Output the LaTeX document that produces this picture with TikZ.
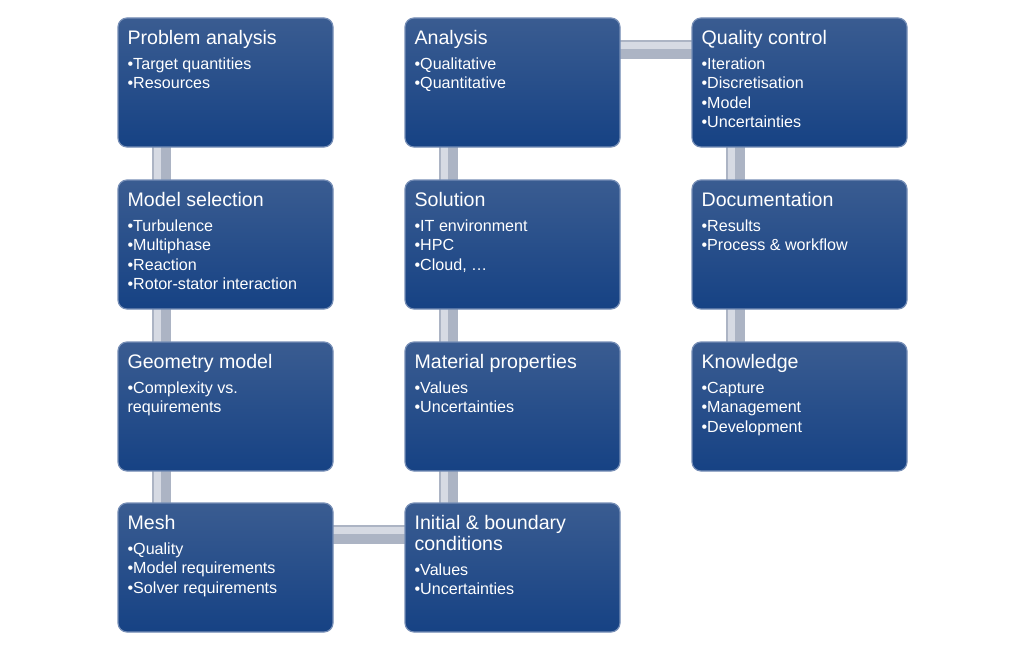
\documentclass[tikz,border=0pt]{standalone}
\usepackage{fontspec}
\setmainfont{Liberation Sans}
\usetikzlibrary{backgrounds}
\definecolor{boxtop}{RGB}{58,92,145}
\definecolor{boxbot}{RGB}{22,66,132}
\definecolor{boxedge}{RGB}{118,142,182}
\definecolor{connbase}{RGB}{172,180,196}
\definecolor{connhi}{RGB}{214,218,227}
\tikzset{
  box/.style={rectangle, rounded corners=9pt, minimum width=215pt, minimum height=129pt,
    inner sep=0pt, top color=boxtop, bottom color=boxbot, draw=boxedge, line width=1.2pt},
  ttl/.style={anchor=base west, inner sep=0pt, text=white, font=\fontsize{19.6}{21}\selectfont},
  itm/.style={anchor=base west, inner sep=0pt, text=white, font=\fontsize{16.1}{19.5}\selectfont},
  conn/.style={line width=19pt, color=connbase},
  connhi/.style={line width=7pt, color=connhi},
}
\newcommand\FlowBox[4]{%
  \node[box] (#1) at ({#2+107.5},{-#3-64.5}) {};
  \foreach \ttx [count=\tti] in {#4}
    \node[ttl] (#1-t\tti) at ([xshift=10pt,yshift={-27pt-(\tti-1)*21pt}]#1.north west) {\ttx};
}
\newcommand\FlowItems[3]{%
  \foreach \itx [count=\iti] in {#3}
    \node[itm] (#1-i\iti) at ([xshift=10pt,yshift={-#2pt-(\iti-1)*19.5pt}]#1.north west) {\itx};
}
\begin{document}
\begin{tikzpicture}[x=1pt,y=1pt]
\useasboundingbox (0,0) rectangle (1024,-650);
% column 1
\FlowBox{pa}{118}{18}{Problem analysis}
\FlowItems{pa}{52}{•Target quantities,•Resources}
\FlowBox{ms}{118}{180}{Model selection}
\FlowItems{ms}{52}{•Turbulence,•Multiphase,•Reaction,•Rotor-stator interaction}
\FlowBox{gm}{118}{342}{Geometry model}
\FlowItems{gm}{52}{•Complexity vs.,requirements}
\FlowBox{me}{118}{503}{Mesh}
\FlowItems{me}{52}{•Quality,•Model requirements,•Solver requirements}
% column 2
\FlowBox{an}{405}{18}{Analysis}
\FlowItems{an}{52}{•Qualitative,•Quantitative}
\FlowBox{so}{405}{180}{Solution}
\FlowItems{so}{52}{•IT environment,•HPC,{•Cloud, …}}
\FlowBox{mp}{405}{342}{Material properties}
\FlowItems{mp}{52}{•Values,•Uncertainties}
\FlowBox{ib}{405}{503}{Initial \& boundary,conditions}
\FlowItems{ib}{73}{•Values,•Uncertainties}
% column 3
\FlowBox{qc}{692}{18}{Quality control}
\FlowItems{qc}{52}{•Iteration,•Discretisation,•Model,•Uncertainties}
\FlowBox{dc}{692}{180}{Documentation}
\FlowItems{dc}{52}{•Results,•Process \& workflow}
\FlowBox{kn}{692}{342}{Knowledge}
\FlowItems{kn}{52}{•Capture,•Management,•Development}
% connectors
\begin{scope}[on background layer]
  \foreach \a/\b in {pa/ms,ms/gm,gm/me,ib/mp,mp/so,so/an,qc/dc,dc/kn}{
    \draw[conn] ([xshift=44pt,yshift=4pt]\a.south west) -- ([xshift=44pt,yshift=-4pt]\b.north west);
    \draw[connhi] ([xshift=40pt,yshift=4pt]\a.south west) -- ([xshift=40pt,yshift=-4pt]\b.north west);
  }
  \foreach \a/\b in {me/ib,an/qc}{
    \draw[conn] ([xshift=-4pt,yshift=-32pt]\a.north east) -- ([xshift=4pt,yshift=-32pt]\b.north west);
    \draw[connhi] ([xshift=-4pt,yshift=-28pt]\a.north east) -- ([xshift=4pt,yshift=-28pt]\b.north west);
  }
\end{scope}
\end{tikzpicture}
\end{document}
